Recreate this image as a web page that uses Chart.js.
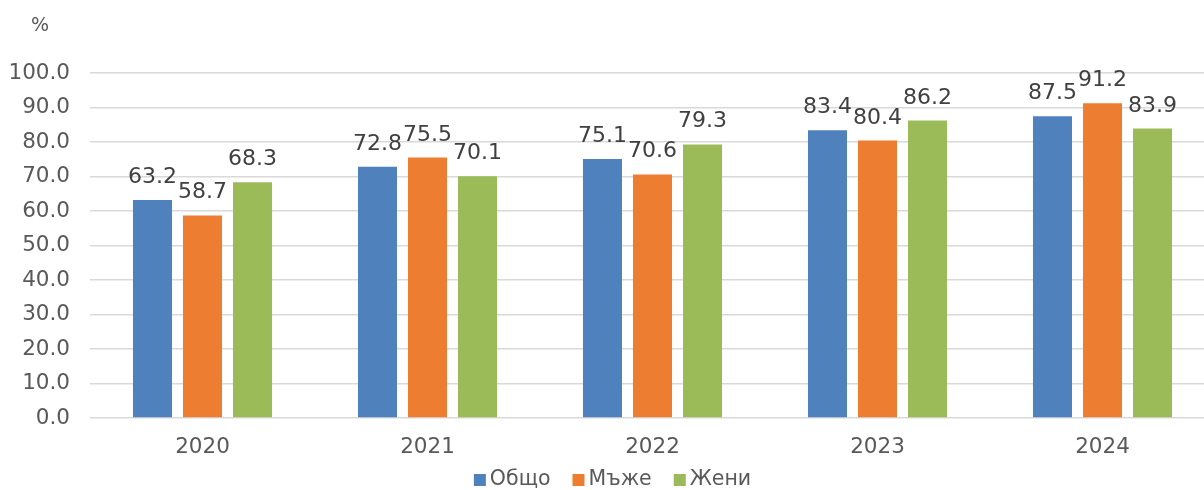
<!DOCTYPE html>
<html>
<head>
<meta charset="utf-8">
<script src="https://cdn.jsdelivr.net/npm/chart.js@4"></script>
<style>
  html, body { margin: 0; padding: 0; background: #fff; overflow: hidden; }
  #wrap { width: 1215px; height: 490px; position: relative; }
</style>
</head>
<body>
<div id="wrap"><canvas id="c"></canvas></div>
<script>
const categories = ['2020', '2021', '2022', '2023', '2024'];
const seriesNames = ['Общо', 'Мъже', 'Жени'];
const total = [63.2, 72.8, 75.1, 83.4, 87.5];
const men = [58.7, 75.5, 70.6, 80.4, 91.2];
const women = [68.3, 70.1, 79.3, 86.2, 83.9];
const yTicks = [0, 10, 20, 30, 40, 50, 60, 70, 80, 90, 100];
const unitLabel = '%';

const colors = ['#4F81BD', '#ED7D31', '#9BBB59'];
const FONT = "'DejaVu Sans', Verdana, sans-serif";

const dataLabels = {
  id: 'dataLabels',
  afterDatasetsDraw(chart) {
    const ctx = chart.ctx;
    ctx.save();
    ctx.font = '22px ' + FONT;
    ctx.fillStyle = '#404040';
    ctx.textAlign = 'center';
    ctx.textBaseline = 'alphabetic';
    chart.data.datasets.forEach((ds, i) => {
      const meta = chart.getDatasetMeta(i);
      meta.data.forEach((el, j) => {
        ctx.fillText(ds.data[j].toFixed(1), el.x, el.y - 17);
      });
    });
    ctx.restore();
  }
};

const unitPlugin = {
  id: 'unitPlugin',
  afterDraw(chart) {
    const ctx = chart.ctx;
    const ys = chart.scales.y;
    ctx.save();
    ctx.font = '19px ' + FONT;
    ctx.fillStyle = '#595959';
    ctx.textAlign = 'center';
    ctx.textBaseline = 'middle';
    ctx.fillText(unitLabel, ys.left + 40, 26);
    ctx.restore();
  }
};

// Compact legend: small square, tight gap to text (Excel style)
const compactLegend = {
  id: 'compactLegend',
  afterDraw(chart) {
    const ctx = chart.ctx;
    const box = 12, gap = 4, itemGap = 22;
    ctx.save();
    ctx.font = '20.5px ' + FONT;
    const items = chart.data.datasets.map(ds => ({ text: ds.label, color: ds.backgroundColor, w: ctx.measureText(ds.label).width }));
    const totalW = items.reduce((s, it) => s + box + gap + it.w, 0) + itemGap * (items.length - 1);
    const cy = chart.scales.x.bottom + 25;
    let x = chart.width / 2 + 5 - totalW / 2;
    ctx.textAlign = 'left';
    ctx.textBaseline = 'middle';
    items.forEach(it => {
      ctx.fillStyle = it.color;
      ctx.fillRect(x, cy - box / 2, box, box);
      x += box + gap;
      ctx.fillStyle = '#595959';
      ctx.fillText(it.text, x, cy);
      x += it.w + itemGap;
    });
    ctx.restore();
  }
};

new Chart(document.getElementById('c'), {
  type: 'bar',
  data: {
    labels: categories,
    datasets: [
      { label: seriesNames[0], data: total, backgroundColor: colors[0] },
      { label: seriesNames[1], data: men, backgroundColor: colors[1] },
      { label: seriesNames[2], data: women, backgroundColor: colors[2] }
    ]
  },
  options: {
    responsive: true,
    maintainAspectRatio: false,
    animation: false,
    layout: { padding: { top: 73, left: 0, right: 0, bottom: 35 } },
    datasets: { bar: { categoryPercentage: 0.667, barPercentage: 0.78 } },
    plugins: {
      legend: { display: false },
      tooltip: { enabled: false }
    },
    scales: {
      x: {
        grid: { display: false },
        border: { display: false },
        afterFit(scale) { scale.height = 37; },
        ticks: { font: { family: FONT, size: 21.5 }, color: '#595959', padding: 9 }
      },
      y: {
        min: 0,
        max: 100,
        afterBuildTicks(scale) { scale.ticks = yTicks.map(v => ({ value: v })); },
        afterFit(scale) { scale.width = 90; },
        grid: { color: '#d9d9d9', lineWidth: 1.5, drawTicks: false },
        border: { display: false },
        ticks: {
          font: { family: FONT, size: 21.5 },
          color: '#595959',
          padding: 20,
          callback: v => Number(v).toFixed(1)
        }
      }
    }
  },
  plugins: [dataLabels, unitPlugin, compactLegend]
});
</script>
</body>
</html>
